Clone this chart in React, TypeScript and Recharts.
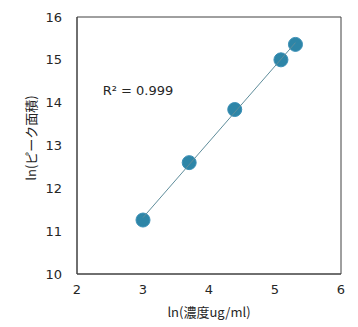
import React from 'react';
import { ScatterChart, Scatter, XAxis, YAxis, ReferenceArea } from 'recharts';

// ln(concentration) vs ln(peak area)
const lnConc = [3.0, 3.7, 4.39, 5.09, 5.31];
const lnArea = [11.26, 12.6, 13.84, 15.0, 15.36];
const xTicks = [2, 3, 4, 5, 6];
const yTicks = [10, 11, 12, 13, 14, 15, 16];
const r2Label = 'R² = 0.999';

const points = lnConc.map((x, i) => ({ x, y: lnArea[i] }));

// least-squares trendline over the data range
const n = points.length;
const mx = lnConc.reduce((a, b) => a + b, 0) / n;
const my = lnArea.reduce((a, b) => a + b, 0) / n;
const slope =
  points.reduce((s, p) => s + (p.x - mx) * (p.y - my), 0) /
  points.reduce((s, p) => s + (p.x - mx) ** 2, 0);
const icpt = my - slope * mx;
const xMin = Math.min(...lnConc);
const xMax = Math.max(...lnConc);
const trend = [
  { x: xMin, y: icpt + slope * xMin },
  { x: xMax, y: icpt + slope * xMax },
];

const axisColor = '#404040';
const textColor = '#262626';
const font = '"DejaVu Sans", "Noto Sans CJK JP", sans-serif';
const jpFont = '"Noto Sans CJK JP", "DejaVu Sans", sans-serif';

const Dot = (props: any) => (
  <circle cx={props.cx} cy={props.cy} r={7} fill="#2D85A7" stroke="#3A8FB6" strokeWidth={1} />
);

const App: React.FC = () => {
  return (
    <div style={{ position: 'absolute', left: 0, top: 0, background: '#fff' }}>
      <ScatterChart width={358} height={327} margin={{ top: 17, right: 17, bottom: 0, left: 0 }}>
        <XAxis
          type="number"
          dataKey="x"
          domain={[2, 6]}
          ticks={xTicks}
          height={53}
          tickLine={false}
          tickMargin={5}
          axisLine={{ stroke: axisColor }}
          tick={{ fill: textColor, fontSize: 13, fontFamily: font }}
          label={{
            content: () => (
              <text x={209} y={317} textAnchor="middle" fontSize={13} fontFamily={jpFont} fill={textColor}>
                ln(濃度ug/ml)
              </text>
            ),
          }}
        />
        <YAxis
          type="number"
          dataKey="y"
          domain={[10, 16]}
          ticks={yTicks}
          width={77}
          tickLine={false}
          tickMargin={9}
          axisLine={{ stroke: axisColor }}
          tick={{ fill: textColor, fontSize: 13, fontFamily: font }}
          label={{
            content: () => (
              <text
                x={36}
                y={138}
                textAnchor="middle"
                fontSize={13}
                fontFamily={jpFont}
                fill={textColor}
                transform="rotate(-90 36 138)"
              >
                ln(ピーク面積)
              </text>
            ),
          }}
        />
        <ReferenceArea x1={2} x2={6} y1={10} y2={16} fill="none" stroke={axisColor} strokeWidth={1} />
        <Scatter data={points} shape={Dot} isAnimationActive={false} />
        <Scatter
          data={trend}
          line={{ stroke: '#5F8D9B', strokeWidth: 1 }}
          shape={() => null}
          isAnimationActive={false}
        />
        <text x={138} y={95} textAnchor="middle" fontSize={13} fontFamily={font} fill={textColor}>
          {r2Label}
        </text>
      </ScatterChart>
    </div>
  );
};

export default App;
